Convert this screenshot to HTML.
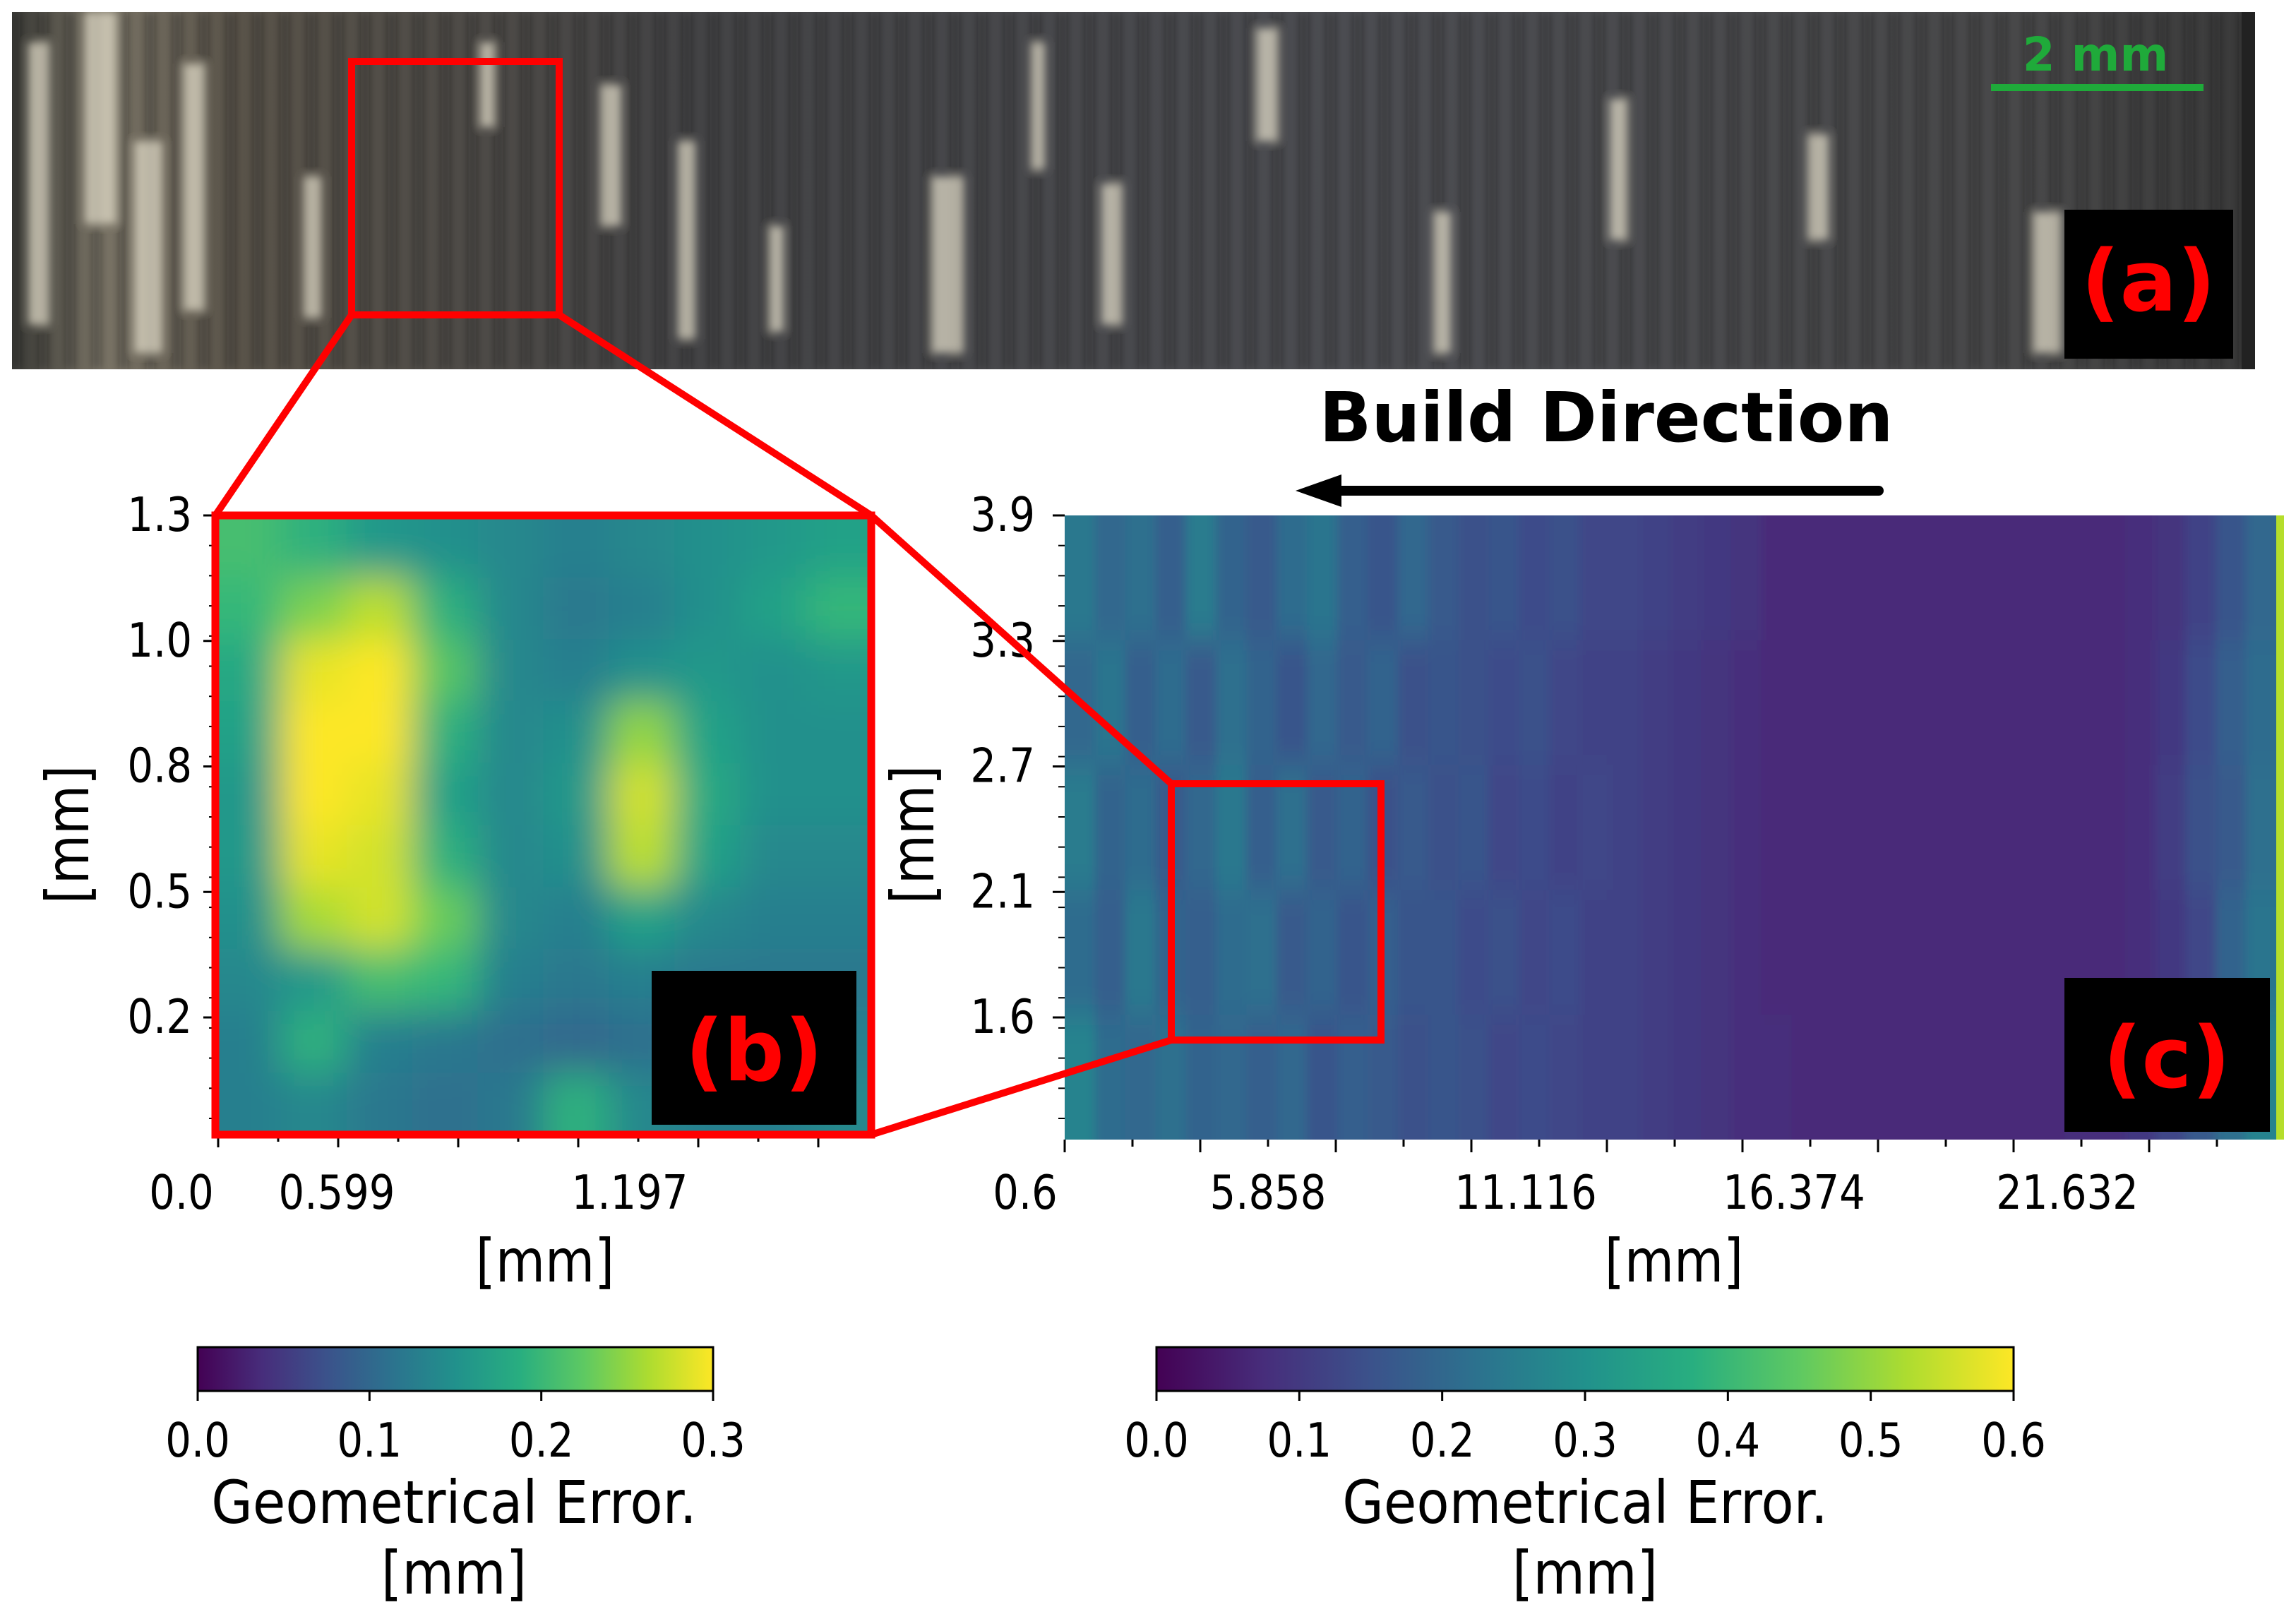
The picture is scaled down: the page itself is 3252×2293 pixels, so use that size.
<!DOCTYPE html>
<html><head><meta charset="utf-8">
<style>
html,body{margin:0;padding:0;background:#fff;}
#root{position:relative;width:3252px;height:2293px;overflow:hidden;background:#fff;font-family:"DejaVu Sans","Liberation Sans",sans-serif;}
svg text{font-family:"DejaVu Sans","Liberation Sans",sans-serif;}
</style></head>
<body>
<div id="root">
<svg id="svg" width="3252" height="2293" viewBox="0 0 3252 2293">
<defs>
<filter id="blurB" x="-5%" y="-5%" width="110%" height="110%"><feGaussianBlur stdDeviation="28"/></filter>
<filter id="blurC" x="-2%" y="-5%" width="104%" height="110%"><feGaussianBlur stdDeviation="7 22"/></filter>
<filter id="blurP" x="-5%" y="-5%" width="110%" height="110%"><feGaussianBlur stdDeviation="6"/></filter>
<clipPath id="clipB"><rect x="305" y="730" width="929" height="877"/></clipPath>
<clipPath id="clipC"><rect x="1508" y="730" width="1727" height="884"/></clipPath>
<clipPath id="clipP"><rect x="17" y="17" width="3177" height="506"/></clipPath>
<linearGradient id="cbar" x1="0" x2="1" y1="0" y2="0">
<stop offset="0" stop-color="#440154"/><stop offset="0.125" stop-color="#472d7b"/><stop offset="0.25" stop-color="#3b528b"/><stop offset="0.375" stop-color="#2c728e"/><stop offset="0.5" stop-color="#21918c"/><stop offset="0.625" stop-color="#28ae80"/><stop offset="0.75" stop-color="#5ec962"/><stop offset="0.875" stop-color="#addc30"/><stop offset="1" stop-color="#fde725"/>
</linearGradient>
<linearGradient id="photoBase" x1="0" x2="1" y1="0" y2="0">
<stop offset="0" stop-color="#3a3a36"/><stop offset="0.04" stop-color="#7a7466"/><stop offset="0.1" stop-color="#5a544a"/><stop offset="0.3" stop-color="#444446"/><stop offset="0.6" stop-color="#4c4d52"/><stop offset="0.9" stop-color="#49494a"/><stop offset="1" stop-color="#3a3a3a"/>
</linearGradient>
</defs>

<!-- (a) photo -->
<g>
<rect x="17" y="17" width="3177" height="506" fill="url(#photoBase)"/>
<g clip-path="url(#clipP)"><g id="stripes" filter="url(#blurP)"></g></g>
<rect x="3175" y="17" width="19" height="506" fill="#222"/>
<rect x="498" y="87" width="294" height="359" fill="none" stroke="#ff0000" stroke-width="10"/>
<line x1="2820" y1="124" x2="3121" y2="124" stroke="#1faa3a" stroke-width="10"/>
<text x="2968" y="100" font-size="66" font-weight="bold" fill="#1faa3a" text-anchor="middle">2 mm</text>
<rect x="2924" y="297" width="239" height="211" fill="#000"/>
<text x="3043" y="440" font-size="120" font-weight="bold" fill="#ff0000" text-anchor="middle" font-family="Liberation Sans">(a)</text>
</g>

<text x="2275" y="625" font-size="97" font-weight="bold" fill="#000" text-anchor="middle" font-family="Liberation Sans">Build Direction</text>
<g>
<line x1="2661" y1="695" x2="1880" y2="695" stroke="#000" stroke-width="14" stroke-linecap="round"/>
<polygon points="1835,695 1900,672 1900,718" fill="#000"/>
</g>

<!-- heatmaps -->
<g clip-path="url(#clipB)"><g id="heatB" filter="url(#blurB)"></g></g>
<g clip-path="url(#clipC)"><g id="heatC" filter="url(#blurC)"></g>
<rect x="3224" y="730" width="11" height="884" fill="#b5de2b"/></g>

<g id="axesB"></g>
<g id="axesC"></g>

<!-- connecting lines -->
<g stroke="#ff0000" stroke-width="10" fill="none">
<line x1="498" y1="446" x2="305" y2="730"/>
<line x1="792" y1="446" x2="1234" y2="730"/>
<line x1="1234" y1="730" x2="1659" y2="1110"/>
<line x1="1234" y1="1607" x2="1659" y2="1473"/>
</g>
<rect x="305" y="730" width="929" height="877" fill="none" stroke="#ff0000" stroke-width="11"/>
<rect x="1659" y="1110" width="297" height="363" fill="none" stroke="#ff0000" stroke-width="10"/>

<rect x="923" y="1375" width="290" height="218" fill="#000"/>
<text x="1068" y="1530" font-size="120" font-weight="bold" fill="#ff0000" text-anchor="middle" font-family="Liberation Sans">(b)</text>
<rect x="2924" y="1385" width="291" height="218" fill="#000"/>
<text x="3069" y="1540" font-size="120" font-weight="bold" fill="#ff0000" text-anchor="middle" font-family="Liberation Sans">(c)</text>

<!-- colorbars -->
<g>
<rect x="280" y="1908" width="730" height="62" fill="url(#cbar)" stroke="#000" stroke-width="3"/>
<g id="cbB"></g>
<text x="0" y="0" transform="translate(643,2157) scale(0.9,1)" font-size="84" text-anchor="middle">Geometrical Error.</text>
<text x="0" y="0" transform="translate(643,2257) scale(0.9,1)" font-size="84" text-anchor="middle">[mm]</text>
</g>
<g>
<rect x="1638" y="1908" width="1214" height="62" fill="url(#cbar)" stroke="#000" stroke-width="3"/>
<g id="cbC"></g>
<text x="0" y="0" transform="translate(2245,2157) scale(0.9,1)" font-size="84" text-anchor="middle">Geometrical Error.</text>
<text x="0" y="0" transform="translate(2245,2257) scale(0.9,1)" font-size="84" text-anchor="middle">[mm]</text>
</g>
</svg>
</div>
<script>
// ---- data ----
const bRows = [
[.21,.19,.16,.15,.14,.13,.14,.15,.16,.17],
[.20,.24,.27,.19,.14,.12,.13,.15,.17,.20],
[.18,.29,.30,.22,.14,.13,.15,.16,.15,.16],
[.17,.30,.30,.19,.14,.15,.25,.17,.15,.15],
[.16,.30,.29,.17,.14,.16,.28,.18,.15,.15],
[.16,.29,.28,.19,.14,.15,.27,.17,.14,.14],
[.15,.26,.28,.23,.14,.13,.17,.14,.13,.13],
[.14,.16,.21,.20,.13,.12,.13,.12,.12,.12],
[.13,.19,.13,.12,.11,.10,.11,.12,.12,.13],
[.13,.14,.12,.11,.12,.19,.14,.13,.13,.14]
];
const cRows = [
[.24,.20,.22,.18,.25,.19,.17,.21,.23,.18,.16,.20,.17,.15,.16,.14,.15,.13,.13,.12,.11,.10,.09,.07,.07,.07,.07,.07,.07,.07,.07,.07,.07,.07,.07,.08,.09,.12,.16,.20],
[.20,.23,.18,.21,.17,.22,.19,.16,.20,.17,.19,.15,.16,.15,.14,.15,.13,.12,.12,.11,.10,.09,.08,.07,.07,.07,.07,.07,.07,.07,.07,.07,.07,.07,.07,.08,.10,.14,.18,.21],
[.25,.19,.21,.17,.20,.24,.18,.22,.17,.19,.15,.17,.15,.16,.13,.14,.12,.13,.12,.11,.10,.09,.08,.07,.07,.07,.07,.07,.07,.07,.07,.07,.07,.07,.07,.08,.11,.15,.17,.22],
[.21,.18,.24,.19,.18,.21,.22,.17,.19,.16,.18,.16,.16,.14,.15,.13,.14,.12,.12,.11,.10,.09,.08,.07,.07,.07,.07,.07,.07,.07,.07,.07,.07,.07,.07,.08,.10,.13,.19,.23],
[.27,.21,.20,.22,.19,.20,.18,.20,.16,.18,.17,.15,.16,.15,.13,.14,.13,.12,.12,.11,.10,.09,.08,.08,.07,.07,.07,.07,.07,.07,.07,.07,.07,.08,.08,.10,.13,.17,.22,.27]
];
const bYTicks = ["1.3","1.0","0.8","0.5","0.2"];
const bXTicks = ["0.0","0.599","1.197"];
const cYTicks = ["3.9","3.3","2.7","2.1","1.6"];
const cXTicks = ["0.6","5.858","11.116","16.374","21.632"];
const cbBTicks = ["0.0","0.1","0.2","0.3"];
const cbCTicks = ["0.0","0.1","0.2","0.3","0.4","0.5","0.6"];

const NS="http://www.w3.org/2000/svg";
const VIR=[[68,1,84],[72,40,120],[62,73,137],[49,104,142],[38,130,142],[31,158,137],[53,183,121],[110,206,88],[181,222,43],[253,231,37]];
function viridis(t){t=Math.max(0,Math.min(1,t));const f=t*(VIR.length-1),i=Math.min(VIR.length-2,Math.floor(f)),u=f-i;
const a=VIR[i],b=VIR[i+1];return `rgb(${a.map((v,k)=>Math.round(v+(b[k]-v)*u)).join(",")})`;}
function mk(tag,attrs,parent){const e=document.createElementNS(NS,tag);for(const k in attrs)e.setAttribute(k,attrs[k]);parent.appendChild(e);return e;}

function drawHeat(g,rows,x0,y0,w,h,vmax,pad){
  const nr=rows.length,nc=rows[0].length,cw=w/nc,ch=h/nr;
  rows.forEach((row,r)=>row.forEach((v,c)=>{
    let x=x0+c*cw,y=y0+r*ch,ww=cw,hh=ch;
    if(c===0){x-=pad;ww+=pad;} if(c===nc-1)ww+=pad;
    if(r===0){y-=pad;hh+=pad;} if(r===nr-1)hh+=pad;
    const e=mk('rect',{x:x,y:y,width:ww+0.5,height:hh+0.5,fill:viridis(v/vmax)},g);
    
    
  }));
}
drawHeat(document.getElementById('heatB'),bRows,305,730,929,877,0.3,120);
drawHeat(document.getElementById('heatC'),cRows,1508,730,1716,884,0.6,60);

function txt(g,x,y,s,anchor,size){const e=mk('text',{x:0,y:0,transform:`translate(${x},${y}) scale(0.9,1.05)`,'font-size':size||64,'text-anchor':anchor||'middle',fill:'#000'},g);e.textContent=s;return e;}

// axes b
const aB=document.getElementById('axesB');
const bYpos=v=>730+v*((1441-730)/4);
bYTicks.forEach((s,i)=>{const y=bYpos(i);mk('line',{x1:288,x2:305,y1:y,y2:y,stroke:'#000','stroke-width':3},aB);
 const t=txt(aB,272,y+22,s,'end');});
for(let i=0;i<22;i++){const y=730+i*42.7;if(y>1607)break;mk('line',{x1:296,x2:305,y1:y,y2:y,stroke:'#000','stroke-width':2},aB);}
for(let i=0;i<11;i++){const x=309+i*85;mk('line',{x1:x,x2:x,y1:1607,y2:(i%2===0?1625:1617),stroke:'#000','stroke-width':3},aB);}
const bXc=[257,477,892];
bXTicks.forEach((s,i)=>{const t=txt(aB,bXc[i],1712,s);});
let t=txt(aB,772,1815,'[mm]','middle',80);
t=mk('text',{x:0,y:0,'font-size':80,'text-anchor':'middle',transform:'translate(125,1182) rotate(-90) scale(0.9,1.05)'},aB);t.textContent='[mm]';


// axes c
const aC=document.getElementById('axesC');
cYTicks.forEach((s,i)=>{const y=bYpos(i);mk('line',{x1:1491,x2:1508,y1:y,y2:y,stroke:'#000','stroke-width':3},aC);
 const t=txt(aC,1466,y+22,s,'end');});
for(let i=0;i<22;i++){const y=730+i*42.7;if(y>1614)break;mk('line',{x1:1499,x2:1508,y1:y,y2:y,stroke:'#000','stroke-width':2},aC);}
for(let i=0;i<18;i++){const x=1508+i*96;mk('line',{x1:x,x2:x,y1:1614,y2:(i%2===0?1632:1624),stroke:'#000','stroke-width':3},aC);}
const cXc=[1452,1796,2161,2541,2928];
cXTicks.forEach((s,i)=>{const t=txt(aC,cXc[i],1712,s);});
t=txt(aC,2371,1815,'[mm]','middle',80);
t=mk('text',{x:0,y:0,'font-size':80,'text-anchor':'middle',transform:'translate(1322,1182) rotate(-90) scale(0.9,1.05)'},aC);t.textContent='[mm]';


// colorbar ticks
function cb(id,ticks,x0,x1){const g=document.getElementById(id);ticks.forEach((s,i)=>{const x=x0+i*(x1-x0)/(ticks.length-1);
 mk('line',{x1:x,x2:x,y1:1970,y2:1984,stroke:'#000','stroke-width':3},g);
 const t=txt(g,x,2063,s);});}
cb('cbB',cbBTicks,280,1010);cb('cbC',cbCTicks,1638,2852);

// photo texture
const st=document.getElementById('stripes');
for(let x=17;x<3175;x+=38){mk('rect',{x:x,y:17,width:12,height:506,fill:'#1e1e1e',opacity:0.4},st);}
const light=[[40,30,60,400],[120,45,17,300],[190,40,200,300],[260,30,90,350],[430,25,250,200],[850,30,120,200],[960,25,200,280],[1320,45,250,250],[1460,20,60,180],[1560,30,260,200],[1780,30,40,160],[2030,25,300,200],[2280,25,140,200],[2560,30,190,150],[1090,20,320,150],[680,20,60,120],[2880,40,300,200]];
light.forEach(([x,w,y,h])=>{mk('rect',{x:x,y:y,width:w,height:h,fill:'#e6e0cc',opacity:0.7},st);});
</script>
</body></html>
